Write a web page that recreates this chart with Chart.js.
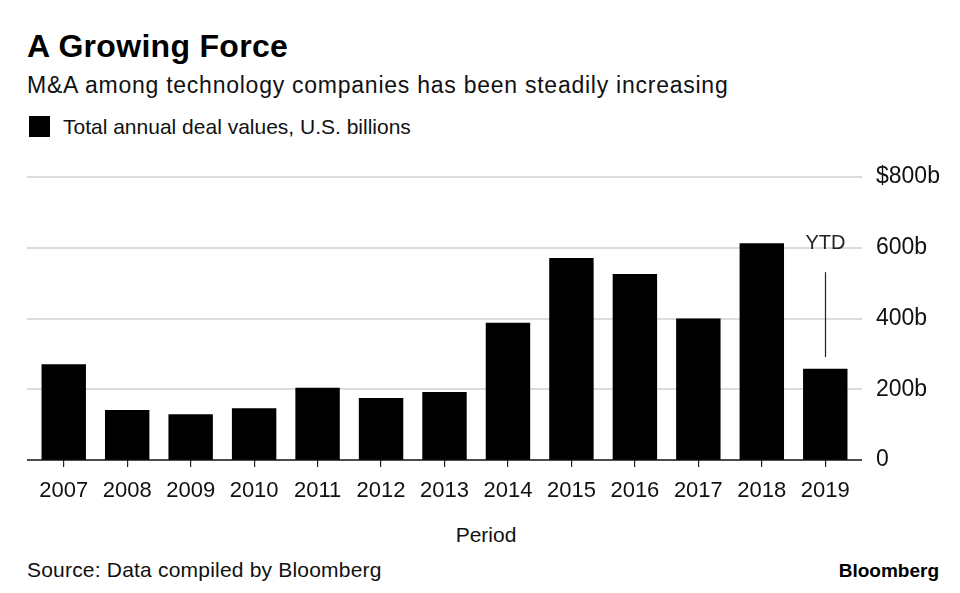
<!DOCTYPE html>
<html>
<head>
<meta charset="utf-8">
<script src="https://cdn.jsdelivr.net/npm/chart.js@4.4.1/dist/chart.umd.min.js"></script>
<style>
  body { margin: 0; background: #fff; font-family: "Liberation Sans", Arial, sans-serif; color: #111; }
  #wrap { position: relative; width: 960px; height: 593px; overflow: hidden; }
  .txt { position: absolute; white-space: nowrap; }
  #title { left: 27px; top: 28px; font-size: 32px; font-weight: bold; color: #000; letter-spacing: 0.3px; }
  #subtitle { left: 27px; top: 72px; font-size: 23px; letter-spacing: 0.75px; }
  #legend { left: 29px; top: 115px; font-size: 21px; }
  #legend span.box { display: inline-block; width: 21px; height: 21px; background: #000; vertical-align: -3px; margin-right: 13px; }
  #period { left: 486px; top: 523px; font-size: 21px; transform: translateX(-50%); }
  #source { left: 27px; top: 558px; font-size: 21px; letter-spacing: 0.2px; }
  #brand { right: 21px; top: 560px; font-size: 19px; font-weight: bold; color: #000; }
  canvas { position: absolute; left: 0; top: 0; }
</style>
</head>
<body>
<div id="wrap">
  <div class="txt" id="title">A Growing Force</div>
  <div class="txt" id="subtitle">M&amp;A among technology companies has been steadily increasing</div>
  <div class="txt" id="legend"><span class="box"></span>Total annual deal values, U.S. billions</div>
  <div class="txt" id="period">Period</div>
  <div class="txt" id="source">Source: Data compiled by Bloomberg</div>
  <div class="txt" id="brand">Bloomberg</div>
  <canvas id="myChart" width="960" height="593"></canvas>
</div>
<script>
// years on the x axis
const years = ['2007', '2008', '2009', '2010', '2011', '2012', '2013',
  '2014', '2015', '2016', '2017', '2018', '2019'];
// total annual deal values, US$ billions
const dealValues = [271, 141, 129, 146, 204, 175, 192, 388, 571, 526, 400, 613, 258];
const yTicks = [0, 200, 400, 600, 800];
// YTD note over the last bar
const ytdLabel = 'YTD';
const ytdLineFrom = 291;
const ytdLineTo = 531;
const ytdTextAt = 611;

const fontFamily = '"Liberation Sans", Arial, sans-serif';

const extras = {
  id: 'extras',
  beforeDatasetsDraw(chart) {
    const ctx = chart.ctx;
    const y = chart.scales.y;
    ctx.save();
    ctx.strokeStyle = '#dcdcdc';
    ctx.lineWidth = 2;
    yTicks.forEach(function (v) {
      if (v === 0) return;
      const py = Math.round(y.getPixelForValue(v));
      ctx.beginPath();
      ctx.moveTo(27, py);
      ctx.lineTo(862, py);
      ctx.stroke();
    });
    ctx.restore();
  },
  afterDatasetsDraw(chart) {
    const ctx = chart.ctx;
    const x = chart.scales.x;
    const y = chart.scales.y;
    ctx.save();
    // baseline
    ctx.strokeStyle = '#111';
    ctx.lineWidth = 1.5;
    const py0 = y.getPixelForValue(0);
    ctx.beginPath();
    ctx.moveTo(27, py0);
    ctx.lineTo(862, py0);
    ctx.stroke();
    // YTD note
    const px = Math.round(x.getPixelForValue(years.length - 1)) + 0.5;
    ctx.lineWidth = 1.2;
    ctx.strokeStyle = '#222';
    ctx.beginPath();
    ctx.moveTo(px, y.getPixelForValue(ytdLineFrom));
    ctx.lineTo(px, y.getPixelForValue(ytdLineTo));
    ctx.stroke();
    ctx.fillStyle = '#222';
    ctx.font = '20px ' + fontFamily;
    ctx.textAlign = 'center';
    ctx.textBaseline = 'middle';
    ctx.fillText(ytdLabel, px, y.getPixelForValue(ytdTextAt));
    ctx.restore();
  }
};

const ctx = document.getElementById('myChart').getContext('2d');
new Chart(ctx, {
  type: 'bar',
  data: {
    labels: years,
    datasets: [{
      label: 'Total annual deal values, U.S. billions',
      data: dealValues,
      backgroundColor: '#000',
      borderWidth: 0,
      barPercentage: 0.7,
      categoryPercentage: 1.0,
    }],
  },
  options: {
    responsive: false,
    animation: false,
    layout: { padding: { top: 177, left: 32, right: 0, bottom: 38 } },
    plugins: { legend: { display: false }, tooltip: { enabled: false } },
    scales: {
      x: {
        offset: true,
        grid: { offset: false, drawOnChartArea: false, drawTicks: true, tickLength: 7, color: '#222', lineWidth: 1.2 },
        border: { display: false },
        ticks: { color: '#111', font: { family: fontFamily, size: 22 }, padding: 11, maxRotation: 0 },
        afterFit(scale) { scale.height = 95; },
      },
      y: {
        position: 'right',
        min: 0,
        max: 800,
        grid: { display: false },
        border: { display: false },
        afterBuildTicks(scale) { scale.ticks = yTicks.map(function (v) { return { value: v }; }); },
        ticks: {
          color: '#111',
          padding: 11,
          font: { family: fontFamily, size: 23 },
          callback: function (v) {
            if (v === 0) return '0';
            if (v === 800) return '$800b';
            return v + 'b';
          },
        },
        afterFit(scale) { scale.width = 103; },
      },
    },
  },
  plugins: [extras],
});
</script>
</body>
</html>
